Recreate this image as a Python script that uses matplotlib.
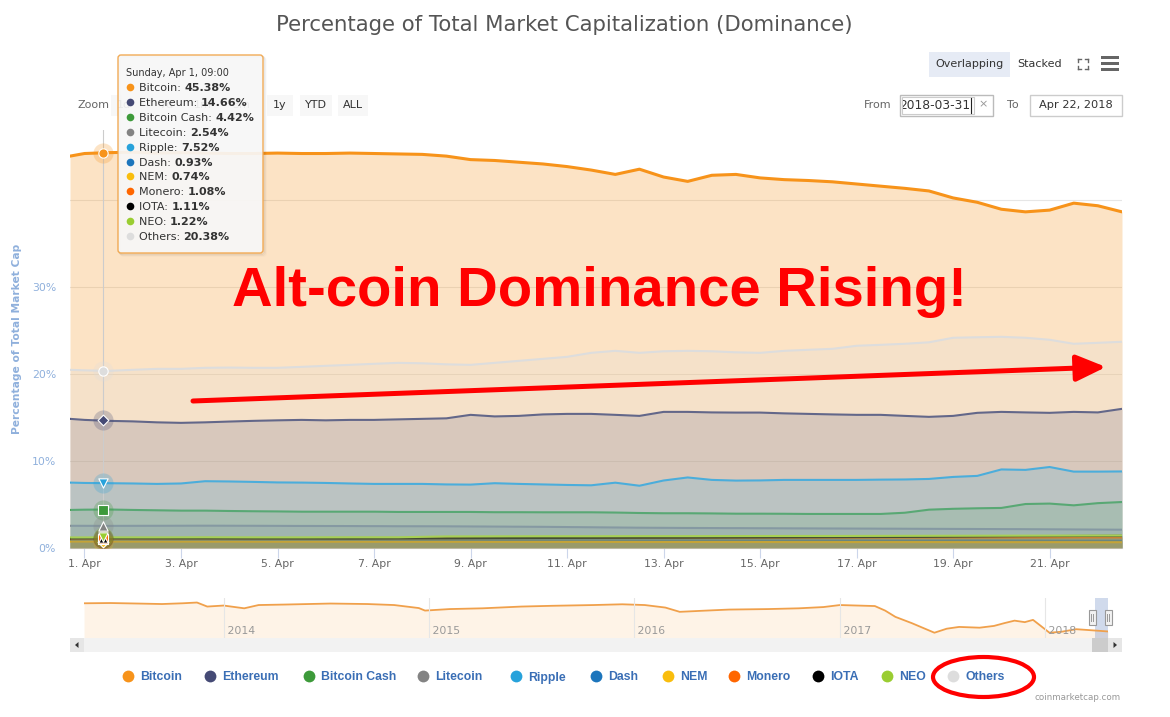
"""
Percentage of Total Market Capitalization (Dominance) - coinmarketcap screenshot
"""

import numpy as np
import pandas as pd
import matplotlib
matplotlib.use('Agg')
import matplotlib.pyplot as plt
import matplotlib.dates as mdates
from matplotlib.patches import Rectangle, FancyBboxPatch, Ellipse, Polygon
from matplotlib.ticker import FuncFormatter
from matplotlib.transforms import Bbox, TransformedBbox

plt.rcParams['font.family'] = ['DejaVu Sans']

# ---- data ----------------------------------------------------------------
# half-day samples: Mar 31 16:48, then Apr 1 00:00 ... Apr 22 12:00
times = [pd.Timestamp('2018-03-31 16:48')] + list(pd.date_range('2018-04-01', periods=44, freq='12h'))
times_s = times[::2]   # coarser grid for the small coins

bitcoin = [45.0, 45.3, 45.4, 45.45, 45.35, 45.4, 45.35, 45.3, 45.3, 45.35,
           45.3, 45.3, 45.35, 45.3, 45.25, 45.2, 45.0, 44.6, 44.5, 44.3,
           44.1, 43.8, 43.4, 42.9, 43.5, 42.6, 42.1, 42.8, 42.9, 42.5,
           42.3, 42.2, 42.05, 41.8, 41.55, 41.3, 41.0, 40.2, 39.7, 38.9,
           38.6, 38.8, 39.6, 39.3, 38.6]
ethereum = [14.83, 14.71, 14.60, 14.54, 14.43, 14.37, 14.43, 14.52, 14.60, 14.66,
            14.71, 14.66, 14.71, 14.71, 14.77, 14.83, 14.89, 15.29, 15.11, 15.17,
            15.34, 15.40, 15.40, 15.29, 15.17, 15.63, 15.63, 15.57, 15.55, 15.55,
            15.46, 15.40, 15.34, 15.29, 15.29, 15.17, 15.06, 15.17, 15.52, 15.63,
            15.57, 15.52, 15.63, 15.57, 15.98]
others = [20.46, 20.40, 20.34, 20.46, 20.57, 20.57, 20.69, 20.72, 20.69, 20.69,
          20.80, 20.92, 21.03, 21.15, 21.26, 21.21, 21.09, 21.03, 21.26, 21.49,
          21.72, 21.95, 22.41, 22.64, 22.41, 22.59, 22.64, 22.59, 22.47, 22.41,
          22.64, 22.76, 22.87, 23.22, 23.33, 23.45, 23.62, 24.14, 24.20, 24.25,
          24.14, 23.91, 23.45, 23.56, 23.68]
ripple = [7.51, 7.47, 7.44, 7.41, 7.36, 7.41, 7.67, 7.64, 7.59, 7.53,
          7.51, 7.47, 7.41, 7.36, 7.36, 7.36, 7.30, 7.28, 7.44, 7.36,
          7.30, 7.24, 7.20, 7.50, 7.15, 7.75, 8.10, 7.82, 7.74, 7.76,
          7.82, 7.82, 7.82, 7.82, 7.85, 7.87, 7.93, 8.16, 8.28, 9.02,
          8.97, 9.30, 8.77, 8.77, 8.79]
bitcoin_cash = [4.37, 4.40, 4.42, 4.37, 4.33, 4.29, 4.29, 4.25, 4.22, 4.20,
                4.17, 4.17, 4.17, 4.17, 4.14, 4.14, 4.14, 4.14, 4.11, 4.11,
                4.10, 4.10, 4.10, 4.07, 4.02, 3.99, 3.99, 3.97, 3.94, 3.94,
                3.93, 3.91, 3.91, 3.91, 3.91, 4.05, 4.40, 4.50, 4.56, 4.60,
                5.05, 5.10, 4.90, 5.15, 5.28]
litecoin = [2.55, 2.54, 2.55, 2.56, 2.55, 2.53, 2.52, 2.50, 2.49, 2.46, 2.43, 2.38,
            2.33, 2.30, 2.28, 2.26, 2.24, 2.22, 2.20, 2.18, 2.16, 2.13, 2.10]
dash = [0.93, 0.93, 0.92, 0.92, 0.91, 0.91, 0.90, 0.90, 0.89, 0.89, 0.88, 0.88,
        0.87, 0.87, 0.86, 0.86, 0.86, 0.85, 0.85, 0.86, 0.85, 0.84, 0.84]
nem = [0.74, 0.74, 0.73, 0.73, 0.72, 0.72, 0.72, 0.71, 0.71, 0.70, 0.70, 0.70,
       0.69, 0.69, 0.69, 0.68, 0.68, 0.68, 0.68, 0.67, 0.67, 0.67, 0.66]
monero = [1.07, 1.08, 1.09, 1.10, 1.10, 1.11, 1.12, 1.12, 1.13, 1.14, 1.15, 1.16,
          1.16, 1.17, 1.17, 1.18, 1.18, 1.19, 1.19, 1.20, 1.20, 1.21, 1.21]
iota = [1.10, 1.11, 1.10, 1.10, 1.09, 1.09, 1.08, 1.10, 1.12, 1.14, 1.15, 1.16,
        1.17, 1.18, 1.20, 1.22, 1.24, 1.26, 1.28, 1.32, 1.36, 1.38, 1.40]
neo = [1.21, 1.22, 1.22, 1.23, 1.22, 1.22, 1.23, 1.23, 1.33, 1.34, 1.35, 1.35,
       1.36, 1.36, 1.37, 1.38, 1.38, 1.39, 1.40, 1.41, 1.42, 1.43, 1.44]

names = ['Bitcoin', 'Ethereum', 'Bitcoin Cash', 'Litecoin', 'Ripple', 'Dash',
         'NEM', 'Monero', 'IOTA', 'NEO', 'Others']
colors = ['#f7931a', '#454a75', '#3d9a3a', '#838383', '#27a2db', '#1c75bc',
          '#f9bd0d', '#ff6600', '#000000', '#9acd32', '#dddddd']
values = [bitcoin, ethereum, bitcoin_cash, litecoin, ripple, dash, nem, monero, iota, neo, others]
xs = [times, times, times, times_s, times, times_s, times_s, times_s, times_s, times_s, times]
markers = ['o', 'D', 's', '^', 'v', 'o', 'D', 's', '^', 'v', 'o']

# tooltip at the crosshair
cross_t = pd.Timestamp('2018-04-01 09:00')
tooltip_vals = [45.38, 14.66, 4.42, 2.54, 7.52, 0.93, 0.74, 1.08, 1.11, 1.22, 20.38]

# navigator: bitcoin dominance over the whole history (decimal years)
nav_years = [2013.32, 2013.45, 2013.58, 2013.70, 2013.80, 2013.87, 2013.92, 2014.00, 2014.10,
             2014.17, 2014.30, 2014.52, 2014.70, 2014.83, 2014.95, 2014.98, 2015.10, 2015.26,
             2015.45, 2015.60, 2015.80, 2015.94, 2016.05, 2016.15, 2016.22, 2016.35, 2016.46,
             2016.65, 2016.80, 2016.92, 2017.00, 2017.17, 2017.22, 2017.27, 2017.35, 2017.46,
             2017.52, 2017.58, 2017.68, 2017.75, 2017.80, 2017.85, 2017.90, 2017.94, 2017.97,
             2018.02, 2018.08, 2018.15, 2018.22, 2018.305]
nav_btc = [94.5, 95, 94, 93, 94.5, 96, 88, 90, 84.5,
           91, 92, 94, 93, 91, 85, 80, 83, 84.5,
           88, 89.5, 91, 92.5, 91, 86, 77.5, 80, 82,
           83, 84.5, 87, 91, 89, 80, 67.5, 55, 36,
           44, 47.5, 46, 49.5, 55, 60, 57, 61.5, 52,
           36, 38, 43, 41, 38.5]

legend_x = [128, 210, 309, 423, 516, 596, 668, 734, 818, 887, 953]

# ---- figure ----------------------------------------------------------------
W, H = 1170, 717
fig = plt.figure(figsize=(W / 100, H / 100), dpi=100)


def box(l, t, r, b):
    return [l / W, 1 - b / H, (r - l) / W, (b - t) / H]


def yr2date(y):
    return pd.Timestamp('2013-01-01') + pd.Timedelta(days=(y - 2013) * 365.25)


ax = fig.add_axes(box(70, 130, 1122, 548))
ax.set_xlim(times[0], times[-1])
ax.set_ylim(0, 48)
for s in ['top', 'right', 'left']:
    ax.spines[s].set_visible(False)
ax.spines['bottom'].set_color('#ccd6eb')
ax.set_yticks([0, 10, 20, 30, 40])
ax.set_yticklabels(['0%', '10%', '20%', '30%', ''])
ax.tick_params(axis='y', length=0, pad=10, labelsize=7.8, labelcolor='#8fb0dc')
ax.grid(axis='y', color='#e6e6e6', lw=0.8, zorder=0)
ax.set_axisbelow(True)
ax.xaxis.set_major_locator(mdates.DayLocator(bymonthday=range(1, 32, 2)))
ax.xaxis.set_major_formatter(FuncFormatter(lambda v, p: '%d. %s' % (mdates.num2date(v).day, mdates.num2date(v).strftime('%b'))))
ax.tick_params(axis='x', length=7, color='#ccd6eb', pad=1, labelsize=7.8, labelcolor='#666666')

fill_alpha = [0.25] + [0.2] * 10
for i, (n, c, x, v) in enumerate(zip(names, colors, xs, values)):
    ax.fill_between(x, v, 0, color=c, alpha=fill_alpha[i], lw=0, zorder=2 + i * 0.1)
    ax.plot(x, v, color=c, lw=2.2 if i == 0 else 1.5, zorder=2.05 + i * 0.1)

ax.axvline(cross_t, color='#cccccc', lw=0.8, zorder=4)
for c, m, v in zip(colors, markers, tooltip_vals):
    ax.scatter([cross_t], [v], s=210, color=c, alpha=0.25, lw=0, zorder=5)
    ax.scatter([cross_t], [v], s=45 if m != 'D' else 30, marker=m, color=c,
               edgecolors='white', linewidths=0.8, zorder=6)

# ---- navigator -------------------------------------------------------------
nav = fig.add_axes(box(84, 598, 1108, 638))
nav_t = [yr2date(y) for y in nav_years]
nav_lo = 25.5
nav.set_xlim(nav_t[0], nav_t[-1])
nav.set_ylim(nav_lo, 105)
nav.fill_between(nav_t, nav_btc, nav_lo, color='#f7931a', alpha=0.1, lw=0)
nav.plot(nav_t, nav_btc, color='#f0a04b', lw=1.3)
for s in nav.spines.values():
    s.set_visible(False)
nav.set_yticks([])
nav.set_xticks([])
for y in range(2014, 2019):
    d = pd.Timestamp('%d-01-01' % y)
    nav.axvline(d, color='#e6e6e6', lw=0.8)
    nav.text(d, nav_lo + 4, ' %d' % y, color='#999999', fontsize=7.8, va='bottom', ha='left')
nav.axvspan(pd.Timestamp('2018-03-31'), nav_t[-1], color=(102 / 255, 133 / 255, 194 / 255), alpha=0.3, lw=0)

# ---- overlay (pixel coordinates, y down) --------------------------------
ov = fig.add_axes([0, 0, 1, 1], zorder=10)
ov.set_xlim(0, W)
ov.set_ylim(H, 0)
ov.axis('off')

ov.text(564, 25, 'Percentage of Total Market Capitalization (Dominance)', ha='center', va='center',
        fontsize=15.3, color='#555555')
ov.text(17, 339, 'Percentage of Total Market Cap', rotation=90, ha='center', va='center',
        fontsize=7.7, fontweight='bold', color='#8fb0dc')

# range selector (partly under the tooltip)
ov.text(93, 105, 'Zoom', ha='center', va='center', fontsize=8, color='#666666')
for lab, cx, w in [('1d', 124, 26), ('7d', 166, 26), ('1m', 203, 28), ('3m', 241, 28),
                   ('1y', 280, 26), ('YTD', 316, 32), ('ALL', 353, 30)]:
    ov.add_patch(Rectangle((cx - w / 2, 95), w, 21, color='#f7f7f7', lw=0, zorder=1))
    ov.text(cx, 105.5, lab, ha='center', va='center', fontsize=8, color='#333333', zorder=2)

ov.add_patch(Rectangle((929, 52), 81, 25, color='#e6ebf5', lw=0))
ov.text(969, 64, 'Overlapping', ha='center', va='center', fontsize=8, color='#333333')
ov.text(1040, 64, 'Stacked', ha='center', va='center', fontsize=8, color='#333333')
for sx, sy in [(-1, -1), (1, -1), (-1, 1), (1, 1)]:
    cx, cy = 1083 + 5 * sx, 64 + 5 * sy
    ov.plot([cx, cx - 3 * sx], [cy, cy], color='#666666', lw=1)
    ov.plot([cx, cx], [cy, cy - 3 * sy], color='#666666', lw=1)
for yy in [57, 63, 69]:
    ov.add_patch(Rectangle((1101, yy - 1.5), 18, 3, color='#666666', lw=0))

ov.text(878, 105, 'From', ha='center', va='center', fontsize=8, color='#666666')
ov.add_patch(Rectangle((900, 95), 93, 21, fc='white', ec='#bbbbbb', lw=1))
ov.add_patch(Rectangle((902, 97), 72, 17, fc='none', ec='#cccccc', lw=0.8))
t = ov.text(970, 105.5, '2018-03-31', ha='right', va='center', fontsize=8.8, color='#333333', clip_on=True)
t.set_clip_box(TransformedBbox(Bbox.from_extents(903, 96, 993, 116), ov.transData))
ov.plot([971, 971], [98, 113], color='#222222', lw=0.8)
ov.text(983, 104, '×', ha='center', va='center', fontsize=8, color='#999999')
ov.text(1013, 105, 'To', ha='center', va='center', fontsize=8, color='#666666')
ov.add_patch(Rectangle((1030, 95), 92, 21, fc='white', ec='#cccccc', lw=1))
ov.text(1076, 105.5, 'Apr 22, 2018', ha='center', va='center', fontsize=8.2, color='#333333')

# tooltip
for k in range(1, 4):
    ov.add_patch(FancyBboxPatch((118 + k, 55 + k), 145, 198, boxstyle='round,pad=0,rounding_size=3',
                                fc='none', ec='black', alpha=0.05 * (4 - k) / 3, lw=1.5, zorder=19))
ov.add_patch(FancyBboxPatch((118, 55), 145, 198, boxstyle='round,pad=0,rounding_size=3',
                            fc='#f7f7f7', ec='#f1a54a', lw=1, alpha=0.93, zorder=20))
ov.text(126, 75.5, 'Sunday, Apr 1, 09:00', ha='left', va='baseline', fontsize=7, color='#333333', zorder=21)
for i, (n, c, v) in enumerate(zip(names, colors, tooltip_vals)):
    yy = 87 + i * 14.9
    ov.plot(130, yy, 'o', color=c, ms=5.5, mec='none', zorder=21)
    tn = ov.text(139, yy + 4, n + ': ', ha='left', va='baseline', fontsize=8, color='#333333', zorder=21)
    ov.annotate('%.2f%%' % v, xy=(1, 0), xycoords=tn, ha='left', va='bottom',
                fontsize=8, fontweight='bold', color='#333333', zorder=21)

# scrollbar
ov.add_patch(Rectangle((70, 638), 1052, 14, color='#f2f2f2', lw=0))
ov.add_patch(Rectangle((70, 638), 14, 14, color='#e6e6e6', lw=0))
ov.add_patch(Rectangle((1108, 638), 14, 14, color='#e6e6e6', lw=0))
ov.add_patch(Polygon([[75, 645], [78.5, 642], [78.5, 648]], color='#333333', lw=0))
ov.add_patch(Polygon([[1117, 645], [1113.5, 642], [1113.5, 648]], color='#333333', lw=0))
h0 = nav.transData.transform((mdates.date2num(pd.Timestamp('2018-03-31')), 0))[0]
h1 = nav.transData.transform((mdates.date2num(nav_t[-1]), 0))[0]
ov.add_patch(Rectangle((h0 - 3, 638), h1 - h0 + 3, 14, color='#cccccc', lw=0))
for hx in [h0 - 3, h1]:
    ov.add_patch(Rectangle((hx - 3.5, 610), 7, 15, fc='#f2f2f2', ec='#999999', lw=0.8, zorder=3))
    ov.plot([hx - 1, hx - 1], [614, 621], color='#999999', lw=0.7, zorder=4)
    ov.plot([hx + 1, hx + 1], [614, 621], color='#999999', lw=0.7, zorder=4)

# legend
for n, c, lx in zip(names, colors, legend_x):
    ov.plot(lx, 676, 'o', color=c, ms=8.5, mec='none')
    ov.text(lx + 12, 680.5, n, ha='left', va='baseline', fontsize=8.8, fontweight='bold',
            color='#3a6eb5', family=['Liberation Sans'])
ov.text(1121, 698, 'coinmarketcap.com', ha='right', va='center', fontsize=6.3, color='#999999')

# annotations drawn over the chart
ov.text(232, 306, 'Alt-coin Dominance Rising!', ha='left', va='baseline', fontsize=40.5,
        fontweight='bold', color='#ff0000', family=['Liberation Sans'])
ov.annotate('', xy=(1106, 367), xytext=(193, 401),
            arrowprops=dict(arrowstyle='-|>,head_length=0.9,head_width=0.4', color='#ff0000',
                            lw=3.6, mutation_scale=20, shrinkA=0, shrinkB=0))
ov.add_patch(Ellipse((983.5, 677), 101, 40, fc='none', ec='#ff0000', lw=3))

plt.savefig('out.png', dpi=100)
